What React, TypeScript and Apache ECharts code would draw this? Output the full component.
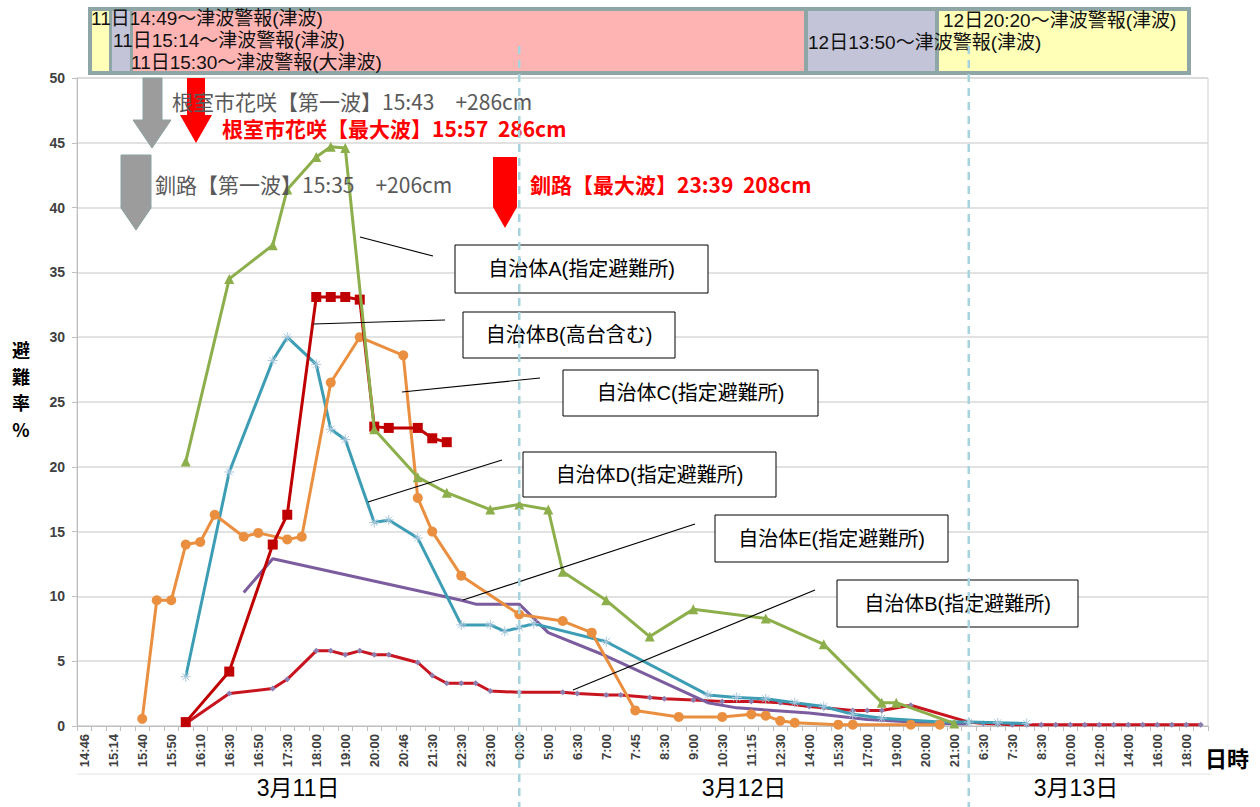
import React, { useEffect, useRef } from "react";
import * as echarts from "echarts";

// Category axis: "day time" (only the time part is shown, every other label)
const categories = [
  "11 14:46", "11 14:49", "11 15:14", "11 15:30", "11 15:40", "11 15:45", "11 15:50", "11 16:00",
  "11 16:10", "11 16:20", "11 16:30", "11 16:40", "11 16:50", "11 17:00", "11 17:30", "11 17:45",
  "11 18:00", "11 18:30", "11 19:00", "11 19:30", "11 20:00", "11 20:30", "11 20:46", "11 21:00",
  "11 21:30", "11 22:00", "11 22:30", "11 22:45", "11 23:00", "11 23:30", "12 0:00", "12 3:00",
  "12 5:00", "12 6:00", "12 6:30", "12 6:45", "12 7:00", "12 7:30", "12 7:45", "12 8:00",
  "12 8:30", "12 8:45", "12 9:00", "12 10:00", "12 10:30", "12 11:00", "12 11:15", "12 12:00",
  "12 12:30", "12 13:00", "12 14:00", "12 15:00", "12 15:30", "12 16:00", "12 17:00", "12 18:00",
  "12 19:00", "12 19:30", "12 20:00", "12 20:30", "12 21:00", "13 0:00", "13 6:30", "13 7:00",
  "13 7:30", "13 8:00", "13 8:30", "13 9:00", "13 10:00", "13 11:00", "13 12:00", "13 13:00",
  "13 14:00", "13 15:00", "13 16:00", "13 17:00", "13 18:00", "13 19:00",
];

const yTicks = { min: 0, max: 50, interval: 5 };

// 自治体A(指定避難所)
const aIdx = [7, 10, 13, 14, 16, 17, 18, 20, 23, 25, 28, 30, 32, 33, 36, 39, 42, 47, 51, 55, 56, 60];
const aVal = [20.4, 34.5, 37.1, 41.4, 43.9, 44.7, 44.6, 22.9, 19.2, 18.0, 16.7, 17.1, 16.7, 11.9, 9.7, 6.9, 9.0, 8.3, 6.3, 1.8, 1.8, 0.2];

// 自治体B(高台含む)
const bhIdx = [7, 10, 13, 14, 16, 17, 18, 19, 20, 21, 23, 24, 25];
const bhVal = [0.3, 4.2, 14.0, 16.3, 33.1, 33.1, 33.1, 32.9, 23.1, 23.0, 23.0, 22.2, 21.9];

// 自治体C(指定避難所)
const cIdx = [4, 5, 6, 7, 8, 9, 11, 12, 14, 15, 17, 19, 22, 23, 24, 26, 30, 33, 35, 38, 41, 44, 46, 47, 48, 49, 52, 53, 57, 59];
const cVal = [0.55, 9.7, 9.7, 14.0, 14.2, 16.3, 14.6, 14.9, 14.4, 14.6, 26.5, 30.0, 28.6, 17.6, 15.0, 11.6, 8.6, 8.1, 7.2, 1.2, 0.7, 0.7, 0.9, 0.8, 0.4, 0.25, 0.1, 0.1, 0.1, 0.1];

// 自治体D(指定避難所)
const dIdx = [7, 10, 13, 14, 16, 17, 18, 20, 21, 23, 26, 28, 29, 30, 31, 36, 43, 45, 47, 49, 51, 53, 55, 59, 61, 63, 65];
const dVal = [3.8, 19.6, 28.2, 30.0, 27.9, 22.9, 22.1, 15.7, 15.9, 14.5, 7.8, 7.8, 7.3, 7.6, 7.9, 6.5, 2.4, 2.2, 2.1, 1.8, 1.5, 0.9, 0.6, 0.3, 0.3, 0.25, 0.2];

// 自治体E(指定避難所)
const eIdx = [11, 13, 26, 27, 30, 32, 36, 43, 45, 50, 54, 59, 61];
const eVal = [10.3, 12.9, 9.7, 9.4, 9.4, 7.2, 5.4, 1.8, 1.4, 1.0, 0.5, 0.2, 0.15];

// 自治体B(指定避難所)
const bsIdx = [7, 10, 13, 14, 16, 17, 18, 19, 20, 21, 23, 24, 25, 26, 27, 28, 30, 33, 34, 36, 37, 39, 40, 42, 44, 46, 48, 50, 51, 53, 54, 55, 57, 61,
  62, 63, 64, 65, 66, 67, 68, 69, 70, 71, 72, 73, 74, 75, 76, 77];
const bsVal = [0.2, 2.5, 2.9, 3.6, 5.8, 5.8, 5.5, 5.8, 5.5, 5.5, 4.9, 3.9, 3.3, 3.3, 3.3, 2.7, 2.6, 2.6, 2.5, 2.4, 2.4, 2.2, 2.1, 2.0, 1.9, 1.9, 1.8, 1.5, 1.4, 1.2, 1.2, 1.2, 1.6, 0.3,
  0.2, 0.15, 0.1, 0.1, 0.1, 0.1, 0.1, 0.1, 0.1, 0.1, 0.1, 0.1, 0.1, 0.1, 0.1, 0.1];

const dateLabels = ["3月11日", "3月12日", "3月13日"];
const dayBoundaryCats = ["12 0:00", "13 0:00"];
const yNameChars = ["避", "難", "率", "%"];

const pairs = (idx: number[], val: number[]) => idx.map((i, k) => [i, val[k]]);

const CJK = '"Noto Sans CJK JP", "Noto Sans", sans-serif';
const MIX = '"Liberation Sans", "Noto Sans CJK JP", sans-serif';

export default function App() {
  const ref = useRef<HTMLDivElement>(null);
  useEffect(() => {
    document.body.style.margin = "0";
    const chart = echarts.init(ref.current!, null, { renderer: "svg" });
    const gridLeft = 77, gridRight = 52, gridTop = 78, gridBottom = 81;
    const option: any = {
      animation: false,
      backgroundColor: "#ffffff",
      grid: { left: gridLeft, right: gridRight, top: gridTop, bottom: gridBottom, show: true, borderColor: "#cfcfcf", borderWidth: 1 },
      xAxis: {
        type: "category",
        data: categories,
        boundaryGap: true,
        axisLine: { lineStyle: { color: "#bfbfbf", width: 1 } },
        axisTick: { show: true, interval: 0, length: 5, lineStyle: { color: "#bfbfbf" } },
        axisLabel: {
          interval: 1,
          rotate: 90,
          margin: 8,
          fontSize: 13,
          fontWeight: "bold",
          fontFamily: "Liberation Sans",
          color: "#404040",
          formatter: (v: string) => v.split(" ")[1],
        },
        splitLine: { show: false },
      },
      yAxis: {
        type: "value",
        min: yTicks.min,
        max: yTicks.max,
        interval: yTicks.interval,
        axisLine: { show: true, lineStyle: { color: "#bfbfbf" } },
        axisTick: { show: true, length: 5, lineStyle: { color: "#bfbfbf" } },
        axisLabel: { fontSize: 14, fontWeight: "bold", fontFamily: "Liberation Sans", color: "#404040", margin: 12 },
        splitLine: { lineStyle: { color: "#d9d9d9", width: 1.5 } },
      },
      series: [
        {
          name: "自治体B(指定避難所)", type: "line", data: pairs(bsIdx, bsVal), z: 2, showAllSymbol: true,
          lineStyle: { color: "#c8141e", width: 3 }, itemStyle: { color: "#8c7fb0" },
          symbol: "diamond", symbolSize: 6,
        },
        {
          name: "自治体E(指定避難所)", type: "line", data: pairs(eIdx, eVal), z: 3,
          lineStyle: { color: "#7b5c9e", width: 3 }, itemStyle: { color: "#7b5c9e" },
          symbol: "none",
        },
        {
          name: "自治体D(指定避難所)", type: "line", data: pairs(dIdx, dVal), z: 4, showAllSymbol: true,
          lineStyle: { color: "#3d9db4", width: 3 },
          itemStyle: { color: "#a9c7dd", borderColor: "#a9c7dd", borderWidth: 1 },
          symbol: "path://M0 5H10M5 0V10M1.5 1.5L8.5 8.5M8.5 1.5L1.5 8.5", symbolSize: 10,
        },
        {
          name: "自治体C(指定避難所)", type: "line", data: pairs(cIdx, cVal), z: 5, showAllSymbol: true,
          lineStyle: { color: "#e98f3f", width: 3 }, itemStyle: { color: "#e98f3f" },
          symbol: "circle", symbolSize: 10,
        },
        {
          name: "自治体B(高台含む)", type: "line", data: pairs(bhIdx, bhVal), z: 6, showAllSymbol: true,
          lineStyle: { color: "#c00000", width: 3 }, itemStyle: { color: "#c00000" },
          symbol: "rect", symbolSize: 10,
        },
        {
          name: "自治体A(指定避難所)", type: "line", data: pairs(aIdx, aVal), z: 7, showAllSymbol: true,
          lineStyle: { color: "#8cae4b", width: 3 }, itemStyle: { color: "#8cae4b" },
          symbol: "triangle", symbolSize: 10,
        },
      ],
    };
    chart.setOption(option);

    const xB1 = chart.convertToPixel({ xAxisIndex: 0 }, dayBoundaryCats[0]) as number;
    const xB2 = chart.convertToPixel({ xAxisIndex: 0 }, dayBoundaryCats[1]) as number;
    const plotL = gridLeft;
    const plotR = 1260 - gridRight;

    const g: any[] = [];
    // banner
    g.push({ type: "rect", z: 20, shape: { x: 88, y: 7, width: 1103, height: 68 }, style: { fill: "#8ea6a6" } });
    const cells = [
      [92, 17, "#ffffb8"], [112, 18, "#c4c4d8"], [133, 671, "#ffb4b4"], [808, 127, "#c4c4d8"], [939, 248, "#ffffb8"],
    ];
    cells.forEach(([x, w, c]) =>
      g.push({ type: "rect", z: 21, shape: { x, y: 11, width: w, height: 60 }, style: { fill: c } })
    );
    const bannerTexts: [string, number, number][] = [
      ["11日14:49～津波警報(津波)", 91, 18],
      ["11日15:14～津波警報(津波)", 113, 40],
      ["11日15:30～津波警報(大津波)", 131, 62],
      ["12日13:50～津波警報(津波)", 808, 42],
      ["12日20:20～津波警報(津波)", 943, 20],
    ];
    bannerTexts.forEach(([t, x, y]) =>
      g.push({ type: "text", z: 22, x, y, style: { text: t, fill: "#111", font: `19px ${MIX}`, textAlign: "left", textVerticalAlign: "middle" } })
    );

    // dashed day boundaries
    [xB1, xB2].forEach((x) =>
      g.push({ type: "line", z: 30, shape: { x1: x, y1: 46, x2: x, y2: 807 }, style: { stroke: "#a6d4de", lineWidth: 2.5, lineDash: [8, 6] } })
    );

    // separator under the tick labels
    g.push({ type: "line", z: 1, shape: { x1: plotL, y1: 774, x2: plotR + 4, y2: 774 }, style: { stroke: "#e3e3e3", lineWidth: 1 } });

    // date labels
    const dateX = [(plotL + xB1) / 2, (xB1 + xB2) / 2, 1076];
    dateLabels.forEach((t, i) =>
      g.push({ type: "text", z: 10, x: dateX[i], y: 788, style: { text: t, fill: "#000", font: `23px ${MIX}`, textAlign: "center", textVerticalAlign: "middle" } })
    );

    // axis names
    yNameChars.forEach((ch, i) =>
      g.push({ type: "text", z: 10, x: 21, y: 349 + i * 26.5, style: { text: ch, fill: "#000", font: `bold 18px ${CJK}`, textAlign: "center", textVerticalAlign: "middle" } })
    );
    g.push({ type: "text", z: 10, x: 1227, y: 757, style: { text: "日時", fill: "#000", font: `bold 22px ${CJK}`, textAlign: "center", textVerticalAlign: "middle" } });

    // block arrows
    const grey = "#9c9c9c";
    const red = "#ff0000";
    g.push({ type: "polygon", z: 12, shape: { points: [[143, 78], [162, 78], [162, 120], [171, 120], [152, 148], [133, 120], [143, 120]] }, style: { fill: grey, stroke: "#8aa0a0", lineWidth: 1 } });
    g.push({ type: "polygon", z: 12, shape: { points: [[121, 155], [151, 155], [151, 208], [136, 230], [121, 208]] }, style: { fill: grey, stroke: "#8aa0a0", lineWidth: 1 } });
    g.push({ type: "polygon", z: 12, shape: { points: [[187, 78], [205, 78], [205, 115], [212, 115], [196, 143], [180, 115], [187, 115]] }, style: { fill: red } });
    g.push({ type: "polygon", z: 12, shape: { points: [[493, 157], [517, 157], [517, 207], [505, 228], [493, 207]] }, style: { fill: red } });

    const notes: [string, number, number, string][] = [
      ["根室市花咲【第一波】15:43　+286cm", 172, 101, "#595959"],
      ["根室市花咲【最大波】15:57  286cm", 222, 128, red],
      ["釧路【第一波】15:35　+206cm", 155, 184, "#595959"],
      ["釧路【最大波】23:39  208cm", 530, 184, red],
    ];
    notes.forEach(([t, x, y, c]) =>
      g.push({ type: "text", z: 15, x, y, style: { text: t, fill: c, font: `${c === red ? "bold 21px" : "21px"} ${CJK}`, textAlign: "left", textVerticalAlign: "middle" } })
    );

    // label boxes with leader lines
    const boxes: [string, number, number, number, number, number[]][] = [
      ["自治体A(指定避難所)", 455, 245, 253, 48, [360, 237, 433, 256]],
      ["自治体B(高台含む)", 463, 312, 212, 46, [313, 324, 445, 320]],
      ["自治体C(指定避難所)", 563, 370, 255, 46, [402, 392, 540, 378]],
      ["自治体D(指定避難所)", 523, 452, 253, 45, [368, 502, 502, 460]],
      ["自治体E(指定避難所)", 715, 515, 233, 47, [463, 600, 695, 524]],
      ["自治体B(指定避難所)", 837, 580, 241, 47, [573, 690, 815, 590]],
    ];
    boxes.forEach(([t, x, y, w, h, l]) => {
      g.push({ type: "line", z: 15, shape: { x1: l[0], y1: l[1], x2: l[2], y2: l[3] }, style: { stroke: "#000", lineWidth: 1.2 } });
      g.push({ type: "rect", z: 15, shape: { x, y, width: w, height: h }, style: { fill: "#fff", stroke: "#000", lineWidth: 1 } });
      g.push({ type: "text", z: 16, x: x + w / 2, y: y + h / 2, style: { text: t, fill: "#000", font: `20px ${MIX}`, textAlign: "center", textVerticalAlign: "middle" } });
    });

    chart.setOption({ graphic: { elements: g } });
    return () => chart.dispose();
  }, []);
  return <div ref={ref} style={{ width: 1260, height: 807 }} />;
}
